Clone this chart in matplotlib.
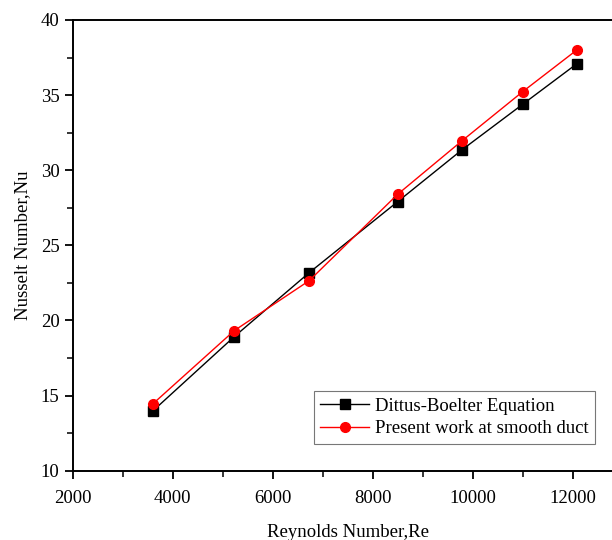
import matplotlib
matplotlib.use("Agg")
import matplotlib.pyplot as plt
from matplotlib.ticker import MultipleLocator

plt.rcParams['font.family'] = ['Liberation Serif', 'DejaVu Serif']

re_vals = [3600, 5230, 6730, 8500, 9790, 11000, 12080]
nu_db = [13.97, 18.92, 23.18, 27.91, 31.37, 34.39, 37.08]
nu_present = [14.44, 19.32, 22.65, 28.40, 31.97, 35.23, 38.0]

fig = plt.figure(figsize=(6.12, 5.4), dpi=100)
# axes runs past the right edge like the cropped original
ax = fig.add_axes([72.7 / 612, 1 - 470.7 / 540, 550 / 612, 450.7 / 540])

ax.plot(re_vals, nu_db, color='black', lw=1.0, marker='s', ms=6.5,
        label='Dittus-Boelter Equation')
ax.plot(re_vals, nu_present, color='red', lw=1.0, marker='o', ms=7,
        label='Present work at smooth duct')

ax.set_xlim(2000, 13000)
ax.set_ylim(10, 40)
ax.xaxis.set_major_locator(MultipleLocator(2000))
ax.xaxis.set_minor_locator(MultipleLocator(1000))
ax.yaxis.set_major_locator(MultipleLocator(5))
ax.yaxis.set_minor_locator(MultipleLocator(2.5))
ax.tick_params(which='major', direction='out', length=6, width=1.3, labelsize=13.5)
ax.tick_params(axis='x', which='major', pad=8)
ax.tick_params(which='minor', direction='out', length=4, width=1.1)
ax.tick_params(top=False, right=False, which='both')
for s in ax.spines.values():
    s.set_linewidth(1.4)
ax.spines['right'].set_visible(False)

ax.set_xlabel('Reynolds Number,Re', fontsize=13.5, labelpad=12)
ax.set_ylabel('Nusselt Number,Nu', fontsize=13.5, labelpad=7)

leg = ax.legend(loc='lower right', bbox_to_anchor=(595 / 612, 1 - 444 / 540),
                bbox_transform=fig.transFigure, fontsize=13.5, fancybox=False,
                edgecolor='#555555', handlelength=2.6, borderpad=0.35,
                labelspacing=0.3, handletextpad=0.3, borderaxespad=0)
leg.get_frame().set_linewidth(0.8)

fig.savefig('out.png', dpi=100)
